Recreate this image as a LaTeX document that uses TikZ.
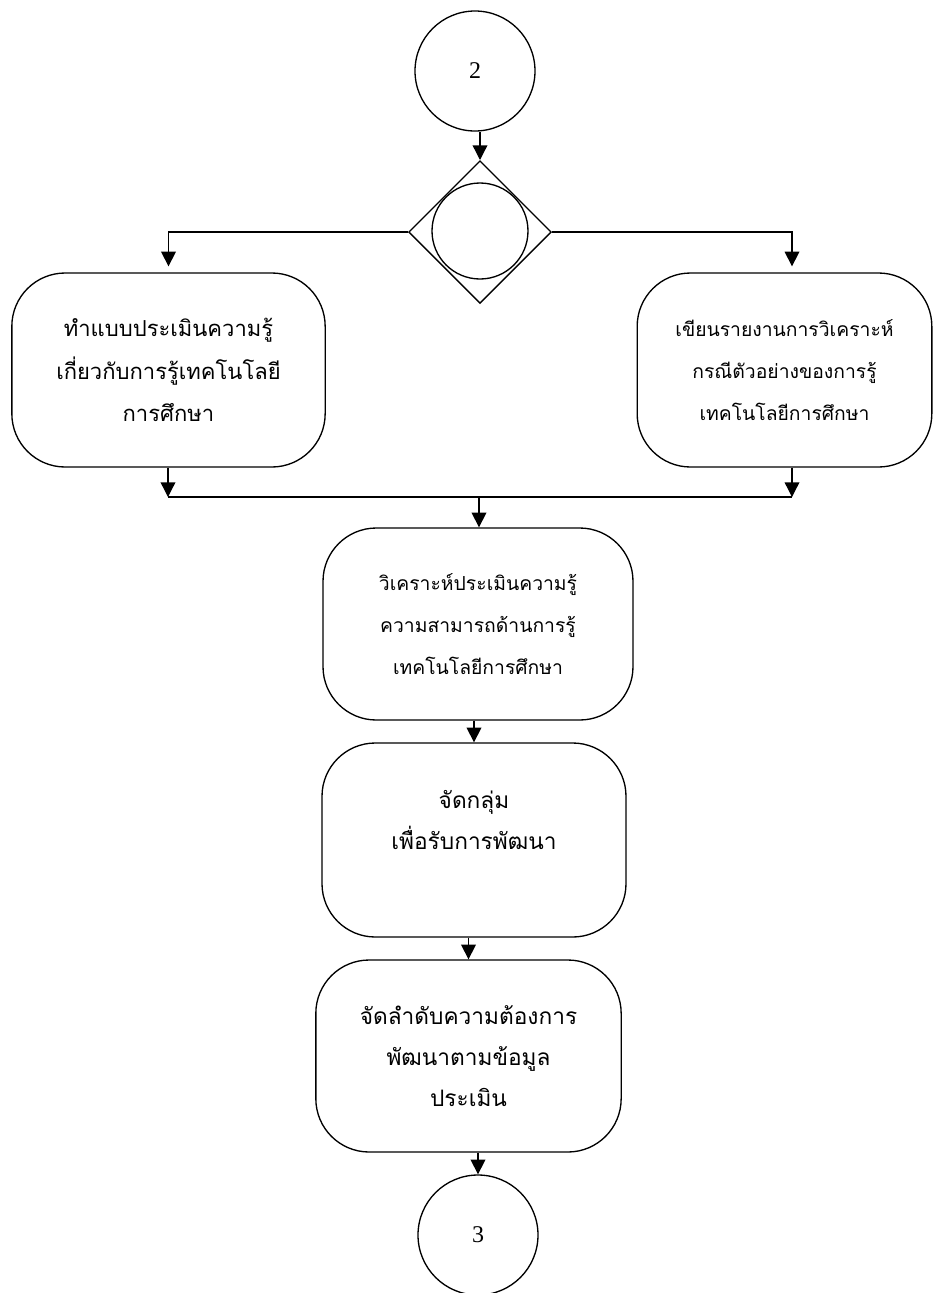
\documentclass[tikz,border=0pt]{standalone}
\usepackage{fontspec}
\setmainfont{Liberation Serif}
\newfontfamily\thaifont[Script=Thai]{Loma}
\usetikzlibrary{shapes.geometric,arrows.meta}

\begin{document}
\begin{tikzpicture}[x=0.75pt,y=-0.75pt,line width=1pt,
  >={Triangle[length=11pt,width=11pt]},
  stepbox/.style={draw,rounded corners=40pt,align=center,inner sep=0pt,
    font=\thaifont\fontsize{14.5}{31.5}\selectfont},
  bigtext/.style={font=\thaifont\fontsize{17}{30.5}\selectfont},
  conn/.style={draw,circle,inner sep=0pt,minimum size=90pt,font=\fontsize{18}{20}\selectfont}]
\useasboundingbox (0,0) rectangle (934,1293);
\node[conn] (c2) at (475,71) {2};
\node[draw,diamond,aspect=1,inner sep=0pt,minimum size=107pt] (dia) at (480,232) {};
\node[draw,circle,inner sep=0pt,minimum size=72pt] (c0) at (480,231) {};
\node[stepbox,minimum width=235pt,minimum height=145.5pt,
  font=\thaifont\fontsize{16.5}{32}\selectfont] (L) at (168.5,370)
  {ทำแบบประเมินความรู้\\เกี่ยวกับการรู้เทคโนโลยี\\การศึกษา};
\node[stepbox,minimum width=221pt,minimum height=145.5pt] (R) at (784.5,370)
  {เขียนรายงานการวิเคราะห์\\กรณีตัวอย่างของการรู้\\เทคโนโลยีการศึกษา};
\node[stepbox,minimum width=232.5pt,minimum height=144pt] (A) at (478,624)
  {วิเคราะห์ประเมินความรู้\\ความสามารถด้านการรู้\\เทคโนโลยีการศึกษา};
\node[stepbox,bigtext,minimum width=228pt,minimum height=145.5pt] (G) at (474,840)
  {จัดกลุ่ม\\เพื่อรับการพัฒนา\\~};
\node[stepbox,bigtext,minimum width=229pt,minimum height=144pt] (P) at (468.5,1056)
  {จัดลำดับความต้องการ\\พัฒนาตามข้อมูล\\ประเมิน};
\node[conn] (c3) at (478,1235) {3};
\coordinate (jl) at (168,497);
\coordinate (jr) at (792,497);
\coordinate (jm) at (479,497);
\draw[->] (c2.south -| dia.north) -- (dia.north);
\draw[->,shorten >=4.5pt] (dia.west) -| (L.north);
\draw[->,shorten >=4.5pt] (dia.east) -| (jr |- R.north);
\draw[->] (L.south -| jl) -- (jl);
\draw[->] (jr |- R.south) -- (jr);
\draw (jl) -- (jr);
\draw[->] (jm) -- (jm |- A.north);
\draw[->] (A.south -| G.north) -- (G.north);
\draw[->] (G.south -| P.north) -- (P.north);
\draw[->] (P.south -| c3.north) -- (c3.north);
\end{tikzpicture}
\end{document}
